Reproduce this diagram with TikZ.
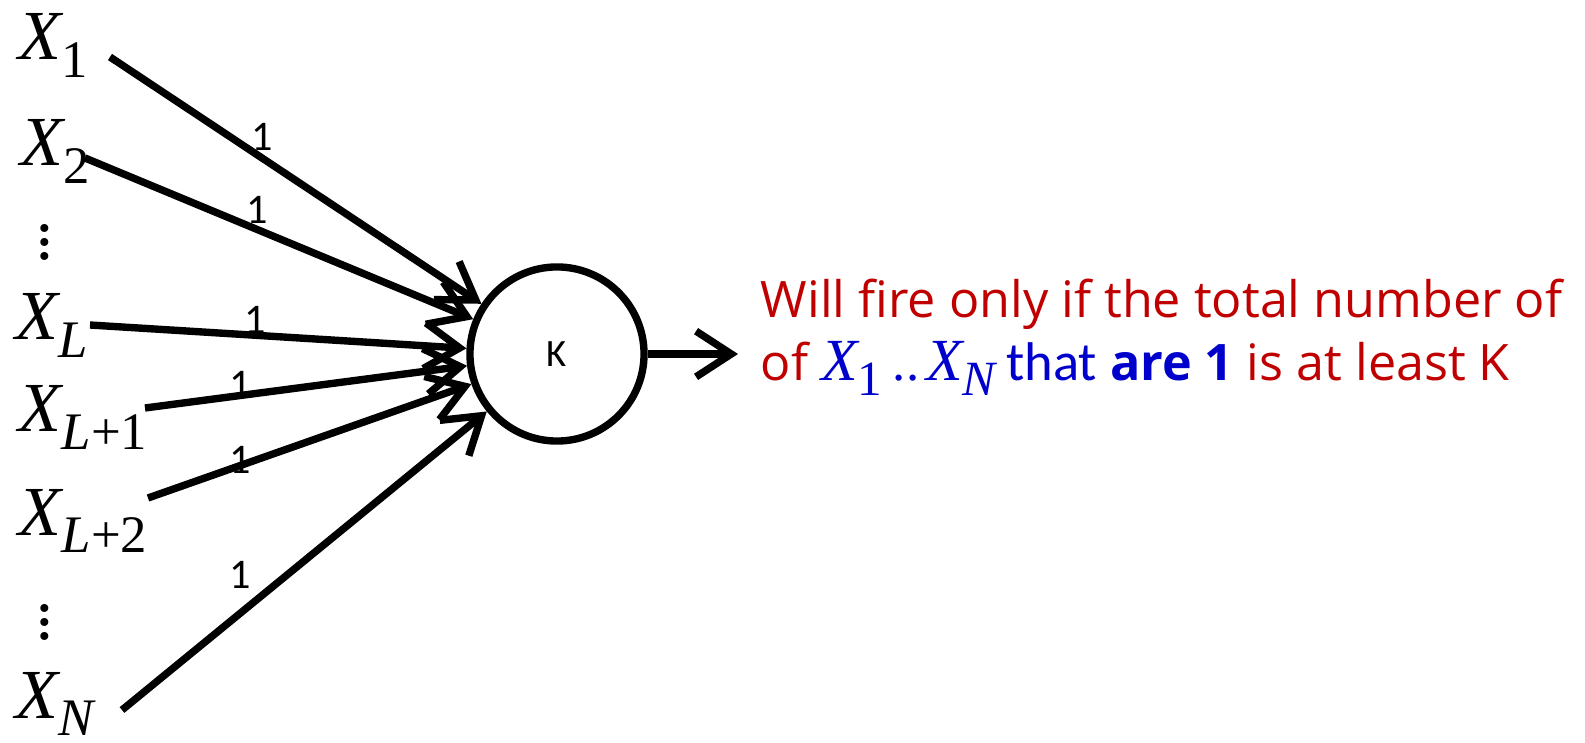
\documentclass[tikz,border=0pt]{standalone}
\usepackage{fontspec}
\usetikzlibrary{arrows.meta}
\newfontfamily\timesf{Liberation Serif}
\newfontfamily\comicf{Open Sans}
\newfontfamily\calibf{Carlito}
\definecolor{firered}{RGB}{192,0,0}
\definecolor{setblue}{RGB}{0,0,204}
\newcommand{\xvar}[1]{{\timesf\itshape X}\raisebox{-0.25em}{\fontsize{15}{15}\selectfont\timesf #1}}
\newcommand{\xsm}[1]{{\fontsize{17}{17}\selectfont\timesf\itshape X}\raisebox{-4pt}{\fontsize{14}{14}\selectfont\timesf #1}}
\begin{document}
\begin{tikzpicture}[x=0.01cm, y=-0.01cm,
    inp/.style={font=\fontsize{20}{20}\selectfont, inner sep=0pt, anchor=base west},
    vd/.style={font=\fontsize{28}{28}\selectfont, inner sep=0pt},
    wt/.style={font=\calibf\fontsize{12}{12}\selectfont, inner sep=0pt},
    link/.style={line width=2.1pt, -{Straight Barb[length=10pt,width=13pt]}},
    txt/.style={font=\comicf\fontsize{14.3}{14.3}\selectfont, text=firered, inner sep=0pt, anchor=base west}]
    \useasboundingbox (0,0) rectangle (1585,743);

    % inputs
    \node[inp] (x1) at (18,60) {\xvar{1}};
    \node[inp] (x2) at (20,166) {\xvar{2}};
    \node[vd] (dots1) at (45,232) {$\vdots$};
    \node[inp] (xl) at (15,340) {\xvar{\itshape L}};
    \node[inp] (xl1) at (18,432) {\xvar{{\itshape L}+1}};
    \node[inp] (xl2) at (18,535) {\xvar{{\itshape L}+2}};
    \node[vd] (dots2) at (45,612) {$\vdots$};
    \node[inp] (xn) at (15,718) {\xvar{\itshape N}};

    % threshold unit
    \node[circle, draw, line width=2.1pt, minimum size=1.74cm, inner sep=0pt,
          font=\calibf\fontsize{11}{11}\selectfont] (k) at (557,354) {K};

    \coordinate (s1) at (110,57);
    \coordinate (s2) at (85,158);
    \coordinate (sl) at (90,325);
    \coordinate (sl1) at (145,408);
    \coordinate (sl2) at (148,498);
    \coordinate (sn) at (122,710);
    \coordinate (out) at (738,354);

    \foreach \s in {s1,s2,sl,sl1,sl2,sn}
        \draw[link] (\s) -- (k);
    \draw[link] (k) -- (out);

    % weights
    \node[wt] (w1) at (262,137) {1};
    \node[wt] (w2) at (257,210) {1};
    \node[wt] (w3) at (255,320) {1};
    \node[wt] (w4) at (240,385) {1};
    \node[wt] (w5) at (240,460) {1};
    \node[wt] (w6) at (240,575) {1};

    % output text
    \node[txt] (t1) at (760,318) {Will fire only if the total number of};
    \node[txt] (t2) at (760,381) {of {\color{setblue}\xsm{1}\hspace{3pt}{\timesf\fontsize{15}{15}\selectfont..}\hspace{2pt}\xsm{\itshape N}}%
        \hspace{3pt}{\calibf\fontsize{15.5}{15.5}\selectfont\color{setblue}that} {\color{setblue}\bfseries are 1} is at least K};
\end{tikzpicture}
\end{document}
